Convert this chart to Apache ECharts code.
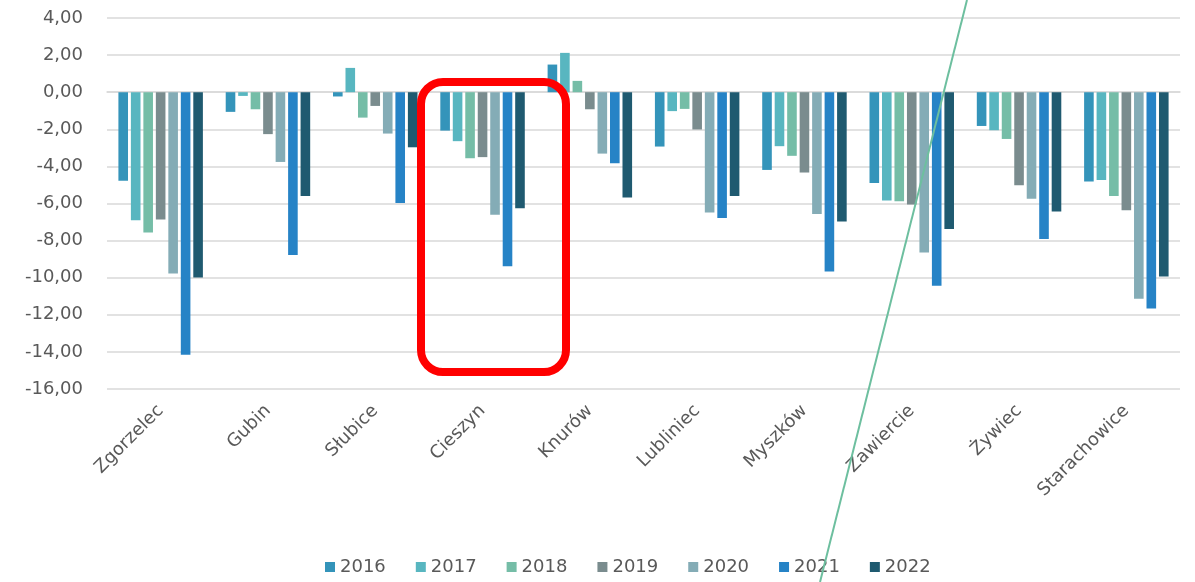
<!DOCTYPE html>
<html>
<head>
<meta charset="utf-8">
<style>
html, body { margin: 0; padding: 0; background: #fff; }
#chart { width: 1195px; height: 582px; }
</style>
<script src="https://cdn.jsdelivr.net/npm/echarts@6/dist/echarts.min.js"></script>
</head>
<body>
<div id="chart"></div>
<script>
// cities on the category axis
var cities = ['Zgorzelec', 'Gubin', 'Słubice', 'Cieszyn', 'Knurów', 'Lubliniec', 'Myszków', 'Zawiercie', 'Żywiec', 'Starachowice'];
var years = ['2016', '2017', '2018', '2019', '2020', '2021', '2022'];
var yearColors = ['#3494BA', '#58B6C0', '#75BDA7', '#7A8C8E', '#84ACB6', '#2683C6', '#1F5A70'];

// values, one array per year
var v2016 = [-4.78, -1.06, -0.23, -2.07, 1.49, -2.93, -4.19, -4.89, -1.82, -4.82];
var v2017 = [-6.90, -0.20, 1.31, -2.64, 2.12, -1.02, -2.91, -5.84, -2.05, -4.73];
var v2018 = [-7.56, -0.92, -1.37, -3.56, 0.61, -0.90, -3.43, -5.88, -2.52, -5.59];
var v2019 = [-6.86, -2.26, -0.74, -3.50, -0.92, -2.01, -4.33, -6.06, -5.01, -6.36];
var v2020 = [-9.77, -3.76, -2.23, -6.61, -3.31, -6.49, -6.56, -8.64, -5.75, -11.14];
var v2021 = [-14.16, -8.77, -5.97, -9.38, -3.83, -6.78, -9.67, -10.44, -7.92, -11.66];
var v2022 = [-9.99, -5.60, -2.97, -6.25, -5.68, -5.59, -6.97, -7.37, -6.43, -9.94];
var allValues = [v2016, v2017, v2018, v2019, v2020, v2021, v2022];

var textColor = '#595959';
var font = 'DejaVu Sans';

var chart = echarts.init(document.getElementById('chart'));

var series = years.map(function (y, i) {
    return {
        name: y,
        type: 'bar',
        data: allValues[i],
        barWidth: 9.6,
        barGap: '30%',
        itemStyle: { color: yearColors[i] }
    };
});

var option = {
    animation: false,
    color: yearColors,
    grid: { left: 107, right: 15, top: 18, bottom: 193 },
    legend: {
        data: years,
        bottom: 1,
        left: 320,
        itemWidth: 10,
        itemHeight: 10,
        itemGap: 30,
        icon: 'rect',
        textStyle: { color: textColor, fontSize: 18, fontFamily: font }
    },
    xAxis: {
        type: 'category',
        data: cities,
        axisLine: { lineStyle: { color: '#D9D9D9', width: 1.5 } },
        axisTick: { show: false },
        axisLabel: {
            rotate: 45,
            margin: 19,
            interval: 0,
            color: textColor,
            fontSize: 18,
            fontFamily: font
        }
    },
    yAxis: {
        type: 'value',
        min: -16,
        max: 4,
        interval: 2,
        axisLine: { show: false },
        axisTick: { show: false },
        splitLine: { lineStyle: { color: '#D9D9D9', width: 1.5 } },
        axisLabel: {
            margin: 24,
            color: textColor,
            fontSize: 18,
            fontFamily: font,
            formatter: function (val) {
                return val.toFixed(2).replace('.', ',');
            }
        }
    },
    graphic: [
        {
            type: 'rect',
            z: 100,
            shape: { x: 421, y: 82, width: 145, height: 290, r: 22 },
            style: { fill: null, stroke: '#FF0000', lineWidth: 8 }
        },
        {
            type: 'line',
            z: 100,
            shape: { x1: 967, y1: 0, x2: 820, y2: 582 },
            style: { stroke: '#6DBF9F', lineWidth: 2 }
        }
    ],
    series: series
};

chart.setOption(option);
</script>
</body>
</html>
